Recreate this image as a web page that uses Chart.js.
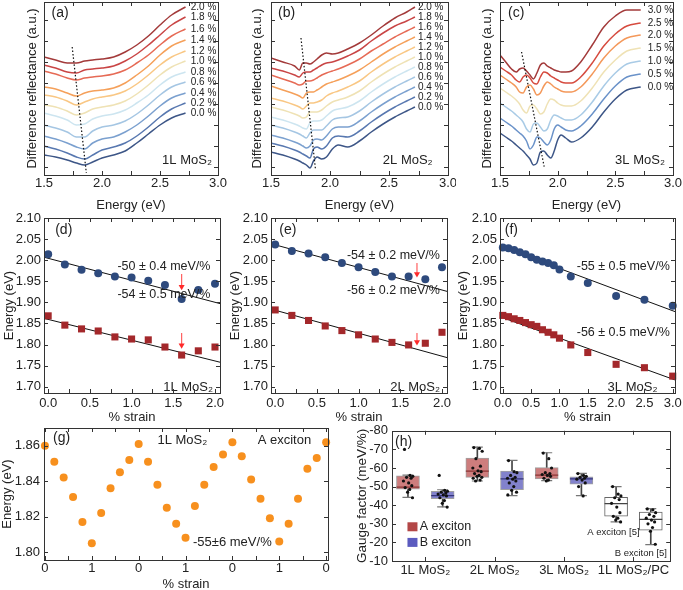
<!DOCTYPE html>
<html lang="en">
<head>
<meta charset="UTF-8">
<title>MoS2 strain figure</title>
<style>
  body { margin: 0; background: #fff; }
  #fig { position: relative; width: 683px; height: 590px; overflow: hidden; }
  canvas { position: absolute; }
</style>
</head>
<body>
<div id="fig">
  <canvas id="ca" width="228" height="213" style="left:0;top:0"></canvas>
  <canvas id="cb" width="228" height="213" style="left:228px;top:0"></canvas>
  <canvas id="cc" width="227" height="213" style="left:456px;top:0"></canvas>
  <canvas id="cd" width="228" height="220" style="left:0;top:205px"></canvas>
  <canvas id="ce" width="228" height="220" style="left:228px;top:205px"></canvas>
  <canvas id="cf" width="227" height="220" style="left:456px;top:205px"></canvas>
  <canvas id="cg" width="340" height="172" style="left:0;top:418px"></canvas>
  <canvas id="ch" width="343" height="172" style="left:340px;top:418px"></canvas>
</div>
<script src="https://cdn.jsdelivr.net/npm/chart.js"></script>
<script>
// ---------- (a) 1L spectra ----------
const strain1L = ['2.0 %','1.8 %','1.6 %','1.4 %','1.2 %','1.0 %','0.8 %','0.6 %','0.4 %','0.2 %','0.0 %'];
const energy1L = [1.5,1.6,1.7,1.78,1.85,1.92,2.0,2.1,2.2,2.3,2.4,2.5,2.6,2.72];
const refl1L = [
  [11.8,11.5,11.2,11.2,11.4,11.5,11.6,11.8,12.3,13.0,13.9,15.0,16.0,16.8],
  [11.0,10.7,10.3,10.2,10.5,10.6,10.7,10.9,11.4,12.1,13.0,14.0,15.0,15.8],
  [10.4,10.1,9.7,9.5,9.7,9.8,9.9,10.1,10.5,11.2,12.0,13.0,13.9,14.6],
  [8.8,8.6,8.2,7.9,8.2,8.4,8.5,8.7,9.2,10.0,10.9,12.0,12.9,13.5],
  [8.0,7.8,7.4,7.0,7.3,7.6,7.8,8.0,8.4,9.1,10.0,11.0,11.8,12.4],
  [7.0,6.8,6.4,6.0,6.2,6.6,6.8,7.0,7.4,8.1,9.0,10.0,10.8,11.4],
  [6.2,5.9,5.5,5.0,5.1,5.6,5.9,6.1,6.5,7.2,8.0,9.0,9.8,10.3],
  [5.0,4.7,4.3,3.8,3.8,4.4,4.8,5.0,5.4,6.1,7.0,8.0,8.8,9.3],
  [3.9,3.6,3.2,2.8,2.6,3.2,3.6,3.8,4.3,5.0,5.9,6.9,7.7,8.2],
  [2.9,2.6,2.2,1.8,1.6,2.0,2.5,2.8,3.2,3.9,4.8,5.8,6.6,7.2],
  [2.0,1.8,1.5,1.2,1.0,1.3,1.7,2.0,2.4,3.2,4.1,5.0,5.7,6.2]
];
const guide1L = [[1.743, 12.8], [1.865, 0.2]];

// ---------- (b) 2L spectra ----------
const strain2L = strain1L;
const energy2L = [1.5,1.6,1.7,1.74,1.77,1.8,1.83,1.86,1.89,1.93,1.97,2.02,2.07,2.15,2.25,2.35,2.45,2.55,2.65,2.72];
const refl2L = [
  [11.7,11.3,10.9,10.5,11.2,11.2,11.1,11.3,11.6,12.0,12.2,12.1,12.2,12.6,13.2,14.0,14.9,15.7,16.3,16.8],
  [10.7,10.4,10.0,9.8,10.2,10.3,10.3,10.5,10.7,11.0,11.2,11.3,11.5,11.9,12.5,13.4,14.2,14.9,15.4,15.8],
  [10.0,9.6,9.2,9.0,9.1,9.4,9.4,9.5,9.7,10.0,10.2,10.4,10.6,11.0,11.6,12.4,13.1,13.8,14.4,14.8],
  [8.9,8.5,8.1,7.9,7.7,8.2,8.3,8.3,8.5,8.8,9.1,9.3,9.5,9.9,10.5,11.3,12.1,12.8,13.4,13.8],
  [7.7,7.4,7.0,6.8,6.6,6.9,7.2,7.2,7.3,7.5,7.9,8.2,8.4,8.8,9.4,10.3,11.1,11.8,12.4,12.8],
  [6.8,6.5,6.1,5.9,5.7,5.8,6.3,6.3,6.3,6.5,6.9,7.3,7.5,7.8,8.4,9.3,10.1,10.8,11.4,11.8],
  [5.8,5.5,5.1,4.9,4.7,4.6,5.2,5.4,5.4,5.5,5.9,6.4,6.6,6.8,7.4,8.3,9.1,9.8,10.4,10.8],
  [5.0,4.7,4.3,4.1,3.9,3.7,4.2,4.5,4.5,4.5,4.9,5.5,5.7,5.8,6.4,7.3,8.1,8.8,9.4,9.8],
  [4.0,3.7,3.3,3.1,2.9,2.7,2.9,3.5,3.6,3.5,3.9,4.6,4.8,4.8,5.4,6.3,7.1,7.8,8.4,8.8],
  [3.2,2.9,2.5,2.3,2.1,1.9,1.7,2.6,2.8,2.6,2.9,3.7,3.9,3.8,4.4,5.3,6.1,6.8,7.4,7.8],
  [2.3,2.0,1.6,1.4,1.2,1.0,0.7,1.4,1.8,1.6,1.8,2.6,3.0,2.8,3.4,4.3,5.1,5.8,6.4,6.8]
];
const guide2L = [[1.754, 13.7], [1.876, 0.67]];

// ---------- (c) 3L spectra ----------
const strain3L = ['3.0 %','2.5 %','2.0 %','1.5 %','1.0 %','0.5 %','0.0 %'];
const energy3L = [1.5,1.55,1.6,1.64,1.67,1.7,1.73,1.76,1.79,1.82,1.85,1.88,1.91,1.94,1.97,2.0,2.03,2.07,2.12,2.2,2.3,2.4,2.5,2.6,2.72];
const refl3L = [
  [12.0,11.3,10.6,10.3,10.6,10.7,10.4,10.0,9.6,10.2,11.0,11.2,10.9,10.7,10.5,10.4,10.3,10.3,10.4,11.3,13.0,14.8,15.9,16.5,16.5],
  [10.8,10.4,10.0,9.5,9.3,9.8,10.0,9.7,9.2,9.1,9.8,10.3,10.2,9.9,9.7,9.5,9.3,9.2,9.2,9.8,11.2,12.9,14.1,14.9,15.2],
  [10.0,9.6,9.2,8.8,8.3,8.2,8.8,9.0,8.6,8.0,8.2,8.9,9.3,9.1,8.8,8.6,8.4,8.3,8.3,8.8,10.1,11.7,12.9,13.7,14.0],
  [8.7,8.3,7.9,7.5,7.1,6.5,6.2,6.9,7.0,6.6,6.1,6.3,7.1,7.6,7.5,7.2,7.0,6.9,6.9,7.4,8.7,10.3,11.5,12.4,12.7],
  [7.2,6.8,6.4,6.0,5.7,5.3,4.6,4.3,5.1,5.2,4.8,4.4,4.6,5.5,6.0,5.9,5.7,5.5,5.5,6.0,7.3,8.9,10.2,11.1,11.4],
  [5.7,5.3,4.9,4.5,4.2,3.9,3.4,2.6,3.0,3.8,3.7,3.3,3.0,3.5,4.6,5.0,4.8,4.5,4.4,4.9,6.1,7.6,8.9,9.8,10.1],
  [4.2,3.8,3.4,3.0,2.7,2.4,2.0,1.6,1.0,1.2,2.3,2.4,2.0,1.7,2.4,3.5,4.0,3.7,3.3,3.7,4.8,6.3,7.6,8.5,8.8]
];
const guide3L = [[1.687, 12.3], [1.883, 0.83]];

const pal11 = ['#a33a3a','#c94545','#e66a55','#f5a05a','#f9c784','#efe2b5','#cde5f0','#a5c6e3','#7ba0cf','#5878b0','#3d5687'];
const pal7 = ['#a33a3a','#d64b3f','#f4985a','#efe2b5','#a9cbe6','#6a92c9','#3d5687'];
const energyTicks = [1.5,1.75,2.0,2.25,2.5,2.75,3.0];
const auTicks = [0.8,2.9,5.0,7.1,9.2,11.3,13.4,15.5];

// ---------- (d)(e)(f) peak energies vs strain ----------
const strainDE = [0,0.2,0.4,0.6,0.8,1.0,1.2,1.4,1.6,1.8,2.0];
const bExc1L = [2.014,1.990,1.977,1.969,1.961,1.959,1.951,1.941,1.908,1.929,1.944];
const aExc1L = [1.868,1.846,1.837,1.832,1.818,1.813,1.811,1.794,1.775,1.785,1.794];
const bExc2L = [2.037,2.022,2.016,2.007,1.993,1.983,1.972,1.961,1.961,1.955,1.983];
const aExc2L = [1.882,1.869,1.857,1.844,1.833,1.823,1.813,1.805,1.799,1.803,1.829];
const strain3Lb = [0,0.1,0.2,0.3,0.4,0.5,0.6,0.7,0.8,0.9,1.0,1.2,1.5,2.0,2.5,3.0];
const bExc3L = [2.030,2.028,2.024,2.019,2.014,2.007,2.001,1.997,1.993,1.988,1.978,1.961,1.946,1.915,1.906,1.892];
const aExc3L = [1.869,1.866,1.861,1.857,1.852,1.847,1.843,1.835,1.829,1.823,1.815,1.799,1.781,1.753,1.745,1.725];
const fitB1L = [[-0.05, 2.007], [2.06, 1.897]], fitA1L = [[-0.05, 1.862], [2.06, 1.758]];
const fitB2L = [[-0.05, 2.039], [2.06, 1.926]], fitA2L = [[-0.05, 1.884], [2.06, 1.769]];
const fitB3L = [[-0.05, 2.033], [3.04, 1.878]], fitA3L = [[-0.05, 1.866], [3.04, 1.716]];
const arrows1L = [[[1.6, 1.967], [1.6, 1.937]], [[1.6, 1.827], [1.6, 1.798]]];
const arrows2L = [[[1.7, 1.993], [1.7, 1.967]], [[1.7, 1.827], [1.7, 1.806]]];
const strainTicksDE = [0,0.25,0.5,0.75,1.0,1.25,1.5,1.75,2.0];
const strainTicksF = [0,0.5,1.0,1.5,2.0,2.5,3.0];
const energyTicksMid = [1.70,1.75,1.80,1.85,1.90,1.95,2.00,2.05,2.10];

// ---------- (g) cycling ----------
const cycleEnergy = [1.860,1.851,1.842,1.831,1.817,1.805,1.822,1.836,1.845,1.852,1.861,1.851,1.838,1.825,1.816,1.808,
                     1.826,1.838,1.848,1.855,1.862,1.854,1.841,1.830,1.819,1.806,1.816,1.830,1.847,1.853,1.862];
const cycleTicks = [0,2.5,5,7.5,10,12.5,15,17.5,20,22.5,25,27.5,30];
const cycleTickText = ['0','1','0','1','0','1','0'];
const cycleEnergyTicks = [1.80,1.82,1.84,1.86];

// ---------- (h) gauge factors ----------
const boxLow  = [-44.2, -39.1, -53.0, -45.1, -53.2, -45.1, -31.0, -18.8];
const boxQ1   = [-48.6, -43.5, -55.0, -48.3, -54.1, -51.3, -34.1, -26.6];
const boxMed  = [-49.7, -45.1, -58.3, -54.1, -56.2, -54.1, -40.8, -32.4];
const boxQ3   = [-55.8, -47.4, -65.4, -58.3, -60.2, -55.3, -44.2, -36.3];
const boxHigh = [-56.2, -48.3, -71.2, -64.1, -68.2, -57.1, -50.0, -38.2];
const gaugePoints = [
  [-70, -56, -55.5, -55, -54.5, -53, -52, -50.5, -49.5, -48.5, -47, -44],
  [-56, -48, -47.5, -47, -46.5, -46, -45.5, -45, -44, -42.5, -41, -39],
  [-71, -70.5, -69, -65, -61, -60, -58.5, -58, -57, -56, -55.5, -55, -54.5, -53.5, -53],
  [-64, -58, -57.5, -56, -55, -54.5, -54, -53, -52, -50, -48, -47, -45.5],
  [-68, -65, -60, -57.5, -57, -56.5, -56, -55.5, -54.5, -53.5, -53],
  [-57, -56, -55.5, -55, -54.5, -54, -53.5, -52, -50, -45],
  [-50, -46, -45, -44, -43, -41, -39, -36, -34, -33, -32, -31],
  [-38, -37.5, -36, -35, -34, -33, -32, -31, -30, -28, -26, -19]
];
const jitter = [-0.10, 0.06, 0.14, -0.04, 0.09, -0.13, 0.02, 0.11, -0.08, 0.05, -0.01, 0.13, -0.12, 0.08, -0.05];
const boxFill = ['#cd7d7d','#8282cc','#cd7d7d','#8282cc','#cd7d7d','#8282cc','#ffffff','#ffffff'];
const boxEdge = ['#a0a0a0','#a0a0a0','#a0a0a0','#a0a0a0','#a0a0a0','#a0a0a0','#666666','#666666'];
const medColor = ['#8b3535','#35357c','#8b3535','#35357c','#8b3535','#35357c','#444444','#444444'];
const groupTickPos = [0.5, 2.5, 4.5, 6.5];
const groupNames = ['1L MoS\u2082', '2L MoS\u2082', '3L MoS\u2082', '1L MoS\u2082/PC'];
const gaugeTicks = [-80,-70,-60,-50,-40,-30,-20,-10];

// ---------- shared setup ----------
const FONT = "'Liberation Sans', Arial, sans-serif";
Chart.defaults.font.family = FONT;
Chart.defaults.font.size = 13;
Chart.defaults.color = '#222';
Chart.defaults.animation = false;
Chart.defaults.responsive = false;
Chart.defaults.plugins.legend.display = false;
Chart.defaults.plugins.tooltip.enabled = false;

const fixW = w => s => { s.width = w; s.paddingTop = 0; s.paddingBottom = 0; };
const fixH = h => s => { s.height = h; s.paddingLeft = 0; s.paddingRight = 0; };
const setTicks = list => s => { s.ticks = list.map(v => ({ value: v })); };
const pts = (xs, ys) => xs.map((x, i) => ({ x, y: ys[i] }));
const pairs = arr => arr.map(p => ({ x: p[0], y: p[1] }));
const half = v => Math.abs(v * 2 - Math.round(v * 2)) < 1e-6;
const noGrid = { display: false, drawTicks: false };

// box with inward ticks on all four sides
const frame = {
  id: 'frame',
  afterDraw(chart) {
    const { ctx, chartArea: a, scales } = chart;
    const len = 4;
    ctx.save();
    ctx.strokeStyle = '#333';
    ctx.lineWidth = 1;
    ctx.beginPath();
    for (const t of scales.x.ticks) {
      const p = Math.round(scales.x.getPixelForValue(t.value)) + 0.5;
      if (p < a.left || p > a.right) continue;
      ctx.moveTo(p, a.bottom); ctx.lineTo(p, a.bottom - len);
      ctx.moveTo(p, a.top); ctx.lineTo(p, a.top + len);
    }
    for (const t of scales.y.ticks) {
      const p = Math.round(scales.y.getPixelForValue(t.value)) + 0.5;
      if (p < a.top || p > a.bottom) continue;
      ctx.moveTo(a.left, p); ctx.lineTo(a.left + len, p);
      ctx.moveTo(a.right, p); ctx.lineTo(a.right - len, p);
    }
    ctx.stroke();
    ctx.strokeRect(Math.round(a.left) + 0.5, Math.round(a.top) + 0.5,
                   Math.round(a.right - a.left), Math.round(a.bottom - a.top));
    ctx.restore();
  }
};

// text labels placed in data coordinates
const notes = {
  id: 'notes',
  afterDatasetsDraw(chart, args, opts) {
    const { ctx, scales: { x, y } } = chart;
    ctx.save();
    for (const n of opts.items || []) {
      const px = x.getPixelForValue(n.x), py = y.getPixelForValue(n.y);
      if (n.swatch) {
        ctx.fillStyle = n.swatch;
        ctx.fillRect(px - 5, py - 4.5, 10, 9);
        continue;
      }
      ctx.font = (n.size || 13) + 'px ' + FONT;
      ctx.fillStyle = '#222';
      ctx.textAlign = n.align || 'left';
      ctx.textBaseline = 'middle';
      ctx.fillText(n.text, px, py);
    }
    ctx.restore();
  }
};

// ---------- top row ----------
function spectra(id, xs, curves, tags, colors, guide, o) {
  const ds = [{ data: pairs(guide), borderColor: '#111', borderWidth: 1.2, borderDash: [1.5, 2], pointRadius: 0 }];
  curves.forEach((c, i) => ds.push({
    data: pts(xs, c), borderColor: colors[i], borderWidth: 1.5, pointRadius: 0,
    cubicInterpolationMode: 'monotone'
  }));
  const items = curves.map((c, i) => ({ x: o.labelE, y: c[c.length - 1], text: tags[i], size: 10 }));
  items.push({ x: o.tag[0], y: 16.2, text: o.tag[1], size: 14 });
  items.push({ x: o.sample[0], y: 1.5, text: o.sample[1], align: 'right' });
  new Chart(document.getElementById(id), {
    type: 'line',
    data: { datasets: ds },
    options: {
      layout: { padding: { left: 0, right: o.right, top: 2, bottom: 0 } },
      scales: {
        x: {
          type: 'linear', min: 1.5, max: 3.0, grid: noGrid, border: { display: false },
          afterBuildTicks: setTicks(energyTicks), afterFit: fixH(38),
          ticks: { autoSkip: false, maxRotation: 0, padding: 1, callback: v => half(v) ? v.toFixed(1) : '' },
          title: { display: true, text: 'Energy (eV)', padding: 0 }
        },
        y: {
          min: 0, max: 17.3, grid: noGrid, border: { display: false },
          afterBuildTicks: setTicks(auTicks), afterFit: fixW(o.yw),
          ticks: { autoSkip: false, padding: 0, callback: () => '' },
          title: { display: true, text: 'Difference reflectance (a.u.)', padding: { top: o.titlePad, bottom: 0 } }
        }
      },
      plugins: { notes: { items } }
    },
    plugins: [frame, notes]
  });
}

spectra('ca', energy1L, refl1L, strain1L, pal11, guide1L,
  { right: 10, yw: 44, titlePad: 25, labelE: 2.765, tag: [1.565, '(a)'], sample: [2.948, '1L MoS\u2082'] });
spectra('cb', energy2L, refl2L, strain2L, pal11, guide2L,
  { right: 8, yw: 43, titlePad: 22, labelE: 2.745, tag: [1.56, '(b)'], sample: [2.87, '2L MoS\u2082'] });
spectra('cc', energy3L, refl3L, strain3L, pal7, guide3L,
  { right: 10, yw: 44, titlePad: 24, labelE: 2.78, tag: [1.57, '(c)'], sample: [2.93, '3L MoS\u2082'] });

// ---------- middle row ----------
function shiftPanel(id, strain, upper, lower, fitUp, fitLow, arrows, o) {
  const ds = [
    { data: pts(strain, upper), showLine: false, pointStyle: 'circle', pointRadius: 4,
      pointBackgroundColor: '#2e4a7d', pointBorderWidth: 0, clip: false },
    { data: pts(strain, lower), showLine: false, pointStyle: 'rect', pointRadius: 5,
      pointBackgroundColor: '#a3282b', pointBorderWidth: 0, clip: false }
  ];
  arrows.forEach(a => ds.push({
    data: pairs(a), borderColor: '#ff6060', borderWidth: 1.2, pointRadius: [0, 3.5],
    pointStyle: 'triangle', pointRotation: 180, pointBackgroundColor: '#ff2a2a', pointBorderWidth: 0
  }));
  ds.push({ data: pairs(fitUp), borderColor: '#111', borderWidth: 1, pointRadius: 0 });
  ds.push({ data: pairs(fitLow), borderColor: '#111', borderWidth: 1, pointRadius: 0 });
  new Chart(document.getElementById(id), {
    type: 'line',
    data: { datasets: ds },
    options: {
      layout: { padding: { left: 0, right: o.right, top: 13, bottom: 0 } },
      scales: {
        x: {
          type: 'linear', min: -0.05, max: o.xmax, grid: noGrid, border: { display: false },
          afterBuildTicks: setTicks(o.xticks), afterFit: fixH(32),
          ticks: { autoSkip: false, maxRotation: 0, padding: 3, callback: v => half(v) ? v.toFixed(1) : '' },
          title: { display: true, text: '% strain', padding: 0 }
        },
        y: {
          min: 1.685, max: 2.10, grid: noGrid, border: { display: false },
          afterBuildTicks: setTicks(energyTicksMid), afterFit: fixW(o.yw),
          ticks: { autoSkip: false, padding: 3, callback: v => v.toFixed(2) },
          title: { display: true, text: 'Energy (eV)', padding: { top: o.titlePad, bottom: 0 } }
        }
      },
      plugins: { notes: { items: o.items } }
    },
    plugins: [frame, notes]
  });
}

shiftPanel('cd', strainDE, bExc1L, aExc1L, fitB1L, fitA1L, arrows1L, {
  right: 8, yw: 44, titlePad: 2, xmax: 2.06, xticks: strainTicksDE,
  items: [
    { x: 0.084, y: 2.071, text: '(d)', size: 14 },
    { x: 0.83, y: 1.986, text: '-50 \u00b1 0.4 meV/%', size: 12.5 },
    { x: 0.83, y: 1.919, text: '-54 \u00b1 0.5 meV/%', size: 12.5 },
    { x: 1.976, y: 1.699, text: '1L MoS\u2082', align: 'right' }
  ]
});
shiftPanel('ce', strainDE, bExc2L, aExc2L, fitB2L, fitA2L, arrows2L, {
  right: 9, yw: 43, titlePad: 0, xmax: 2.06, xticks: strainTicksDE,
  items: [
    { x: 0.05, y: 2.071, text: '(e)', size: 14 },
    { x: 0.86, y: 2.010, text: '-54 \u00b1 0.2 meV/%', size: 12.5 },
    { x: 0.86, y: 1.929, text: '-56 \u00b1 0.2 meV/%', size: 12.5 },
    { x: 1.976, y: 1.699, text: '2L MoS\u2082', align: 'right' }
  ]
});
shiftPanel('cf', strain3Lb, bExc3L, aExc3L, fitB3L, fitA3L, [], {
  right: 8, yw: 44, titlePad: 0, xmax: 3.04, xticks: strainTicksF,
  items: [
    { x: 0.035, y: 2.071, text: '(f)', size: 14 },
    { x: 1.305, y: 1.986, text: '-55 \u00b1 0.5 meV/%', size: 12.5 },
    { x: 1.305, y: 1.829, text: '-56 \u00b1 0.5 meV/%', size: 12.5 },
    { x: 2.73, y: 1.699, text: '3L MoS\u2082', align: 'right' }
  ]
});

// ---------- (g) ----------
new Chart(document.getElementById('cg'), {
  type: 'line',
  data: { datasets: [{
    data: cycleEnergy.map((e, i) => ({ x: i, y: e })), showLine: false, pointRadius: 4,
    pointBackgroundColor: '#f7901e', pointBorderWidth: 0, clip: false
  }] },
  options: {
    layout: { padding: { left: 0, right: 12, top: 10, bottom: 0 } },
    scales: {
      x: {
        type: 'linear', min: -0.1, max: 30.2, grid: noGrid, border: { display: false },
        afterBuildTicks: setTicks(cycleTicks), afterFit: fixH(30),
        ticks: { autoSkip: false, maxRotation: 0, padding: 1, callback: v => v % 5 === 0 ? cycleTickText[v / 5] : '' },
        title: { display: true, text: '% strain', padding: 0, font: { lineHeight: 0.8 } }
      },
      y: {
        min: 1.7955, max: 1.870, grid: noGrid, border: { display: false },
        afterBuildTicks: setTicks(cycleEnergyTicks), afterFit: fixW(44),
        ticks: { autoSkip: false, padding: 4, callback: v => v.toFixed(2) },
        title: { display: true, text: 'Energy (eV)', padding: { top: 0, bottom: 0 } }
      }
    },
    plugins: { notes: { items: [
      { x: 0.87, y: 1.8644, text: '(g)', size: 14 },
      { x: 12.0, y: 1.8632, text: '1L MoS\u2082' },
      { x: 22.7, y: 1.8632, text: 'A exciton' },
      { x: 15.8, y: 1.8057, text: '-55\u00b16 meV/%' }
    ] } }
  },
  plugins: [frame, notes]
});

// ---------- (h) ----------
const slots = boxMed.map((m, i) => i);
const whiskers = [];
slots.forEach(i => {
  whiskers.push({ x: i, y: [boxLow[i], boxQ1[i]] });
  whiskers.push({ x: i, y: [boxQ3[i], boxHigh[i]] });
});
const scatter = [];
gaugePoints.forEach((g, i) => g.forEach((v, j) => scatter.push({ x: i + jitter[j % jitter.length], y: v })));
const caps = [];
slots.forEach(i => { caps.push({ x: i, y: boxLow[i] }); caps.push({ x: i, y: boxHigh[i] }); });

new Chart(document.getElementById('ch'), {
  type: 'bar',
  data: { datasets: [
    { type: 'line', data: scatter, showLine: false, pointRadius: 1.6, pointBackgroundColor: '#111', pointBorderWidth: 0 },
    { type: 'line', data: slots.map(i => ({ x: i, y: boxMed[i] })), showLine: false, pointStyle: 'line',
      pointRadius: 11.5, pointBorderColor: medColor, pointBorderWidth: 1.3 },
    { type: 'line', data: caps, showLine: false, pointStyle: 'line', pointRadius: 5.5,
      pointBorderColor: '#777', pointBorderWidth: 1.2 },
    { type: 'bar', data: slots.map(i => ({ x: i, y: [boxQ1[i], boxQ3[i]] })), grouped: false, barThickness: 23,
      backgroundColor: boxFill, borderColor: boxEdge, borderWidth: 1, borderSkipped: false },
    { type: 'bar', data: whiskers, grouped: false, barThickness: 1, backgroundColor: '#444', borderWidth: 0 }
  ] },
  options: {
    layout: { padding: { left: 0, right: 6, top: 10, bottom: 0 } },
    scales: {
      x: {
        type: 'linear', min: -0.46, max: 7.56, offset: false, grid: noGrid, border: { display: false },
        afterBuildTicks: setTicks(groupTickPos), afterFit: fixH(29),
        ticks: { autoSkip: false, maxRotation: 0, padding: 2, callback: v => groupNames[groupTickPos.indexOf(v)] }
      },
      y: {
        min: -80, max: -10, reverse: true, grid: noGrid, border: { display: false },
        afterBuildTicks: setTicks(gaugeTicks), afterFit: fixW(52),
        ticks: { autoSkip: false, padding: 4 },
        title: { display: true, text: 'Gauge factor (meV/%)', padding: { top: 14, bottom: 0 }, font: { size: 13.5 } }
      }
    },
    plugins: { notes: { items: [
      { x: -0.37, y: -73.7, text: '(h)', size: 14 },
      { x: 0.13, y: -28.4, swatch: '#b34747' },
      { x: 0.34, y: -28.4, text: 'A exciton', size: 12.5 },
      { x: 0.13, y: -20.0, swatch: '#5b5bbf' },
      { x: 0.34, y: -20.0, text: 'B exciton', size: 12.5 },
      { x: 5.17, y: -25.3, text: 'A exciton [5]', size: 9.5 },
      { x: 5.96, y: -14.2, text: 'B exciton [5]', size: 9.5 }
    ] } }
  },
  plugins: [frame, notes]
});
</script>
</body>
</html>
